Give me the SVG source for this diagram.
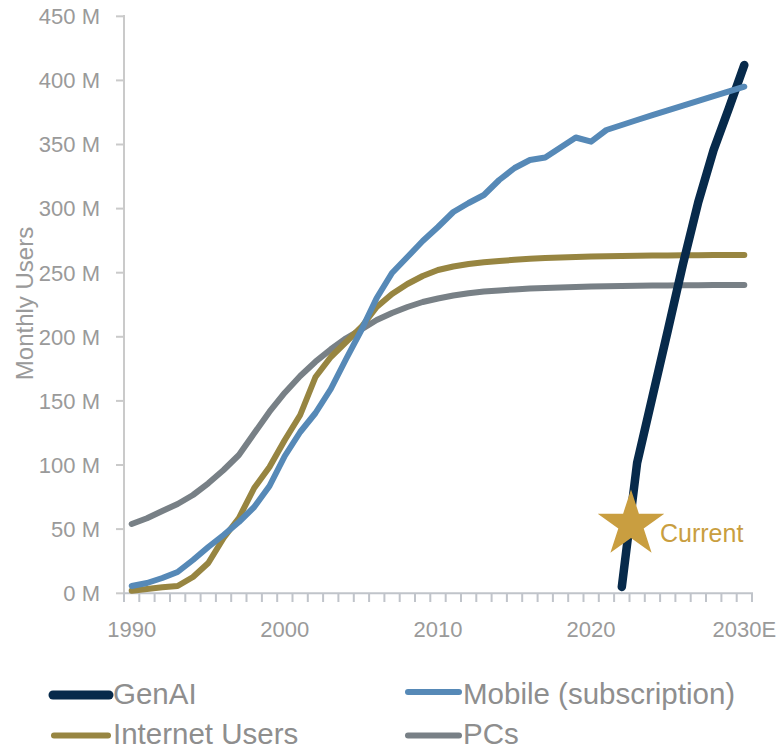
<svg xmlns="http://www.w3.org/2000/svg" width="781" height="750" viewBox="0 0 781 750">
<style>
.lbl{font-family:"Liberation Sans",Arial,sans-serif;font-size:22px;fill:#9a9a9a}
.leg{font-family:"Liberation Sans",Arial,sans-serif;font-size:29.5px;fill:#8e8e8e}
.ser{fill:none;stroke-linejoin:round;stroke-linecap:round}
.tick{stroke:#c0c4ca;stroke-width:2}
</style>
<rect width="781" height="750" fill="#fff"/>
<g id="axes">
<line x1="124" y1="15" x2="124" y2="594" stroke="#cacaca" stroke-width="2"/>
<g stroke="#cacaca" stroke-width="2">
<line x1="116" y1="16.3" x2="124" y2="16.3"/><line x1="116" y1="80.4" x2="124" y2="80.4"/><line x1="116" y1="144.5" x2="124" y2="144.5"/><line x1="116" y1="208.6" x2="124" y2="208.6"/><line x1="116" y1="272.7" x2="124" y2="272.7"/><line x1="116" y1="336.8" x2="124" y2="336.8"/><line x1="116" y1="400.9" x2="124" y2="400.9"/><line x1="116" y1="465" x2="124" y2="465"/><line x1="116" y1="529.1" x2="124" y2="529.1"/><line x1="116" y1="593.3" x2="124" y2="593.3"/>
</g>
<line x1="123" y1="593.3" x2="753" y2="593.3" class="tick"/>
<path class="tick" d="M124 593v9M139.3 593v9M154.6 593v9M170 593v9M185.3 593v9M200.6 593v9M215.9 593v9M231.2 593v9M246.5 593v9M261.9 593v9M277.2 593v9M292.5 593v9M307.8 593v9M323.1 593v9M338.4 593v9M353.8 593v9M369.1 593v9M384.4 593v9M399.7 593v9M415 593v9M430.3 593v9M445.7 593v9M461 593v9M476.3 593v9M491.6 593v9M506.9 593v9M522.2 593v9M537.6 593v9M552.9 593v9M568.2 593v9M583.5 593v9M598.8 593v9M614.1 593v9M629.5 593v9M644.8 593v9M660.1 593v9M675.4 593v9M690.7 593v9M706 593v9M721.4 593v9M736.7 593v9M752 593v9"/>
<g class="lbl" text-anchor="end">
<text x="100" y="24">450 M</text><text x="100" y="88">400 M</text><text x="100" y="152.3">350 M</text><text x="100" y="216.4">300 M</text><text x="100" y="280.5">250 M</text><text x="100" y="344.6">200 M</text><text x="100" y="408.7">150 M</text><text x="100" y="472.8">100 M</text><text x="100" y="536.9">50 M</text><text x="100" y="601">0 M</text>
</g>
<g class="lbl" text-anchor="middle">
<text x="131.7" y="637">1990</text><text x="284.8" y="637">2000</text><text x="438" y="637">2010</text><text x="591.1" y="637">2020</text><text x="744.3" y="637">2030E</text>
</g>
<text class="lbl" style="font-size:24px" transform="translate(33,303.5) rotate(-90)" text-anchor="middle">Monthly Users</text>
</g>
<g id="series">
<polyline id="pcs" class="ser" stroke="#788086" stroke-width="6" points="131.7,524 147,518.3 162.3,511 177.6,504 193,495 208.3,483.3 223.6,470 238.9,455 254.2,433.3 269.5,411.7 284.8,392.7 300.2,376 315.5,361.7 330.8,349.3 346.1,338.3 361.4,329.3 376.7,320 392,313 407.4,307 422.7,302 438,298.5 453.3,295.5 468.6,293.2 483.9,291.6 499.2,290.4 514.6,289.4 529.9,288.6 545.2,288 560.5,287.5 575.8,287 591.1,286.6 606.4,286.3 621.8,286 637.1,285.8 652.4,285.6 667.7,285.4 683,285.3 698.3,285.2 713.6,285.1 729,285 744.3,285"/>
<polyline id="internet" class="ser" stroke="#978541" stroke-width="6" points="131.7,590.7 147,589 162.3,587.3 177.6,586 193,577 208.3,563 223.6,538 238.9,518 254.2,488 269.5,467 284.8,440 300.2,415 315.5,377 330.8,357 346.1,342 361.4,327 376.7,307 392,294 407.4,284 422.7,276 438,270 453.3,266.5 468.6,264 483.9,262.3 499.2,261 514.6,259.8 529.9,258.8 545.2,258 560.5,257.4 575.8,256.9 591.1,256.5 606.4,256.2 621.8,256 637.1,255.8 652.4,255.6 667.7,255.4 683,255.3 698.3,255.2 713.6,255.1 729,255 744.3,255"/>
<polyline id="genai" class="ser" stroke="#072a4b" stroke-width="8.5" points="621.8,587 637.1,463 652.4,397 667.7,331 683,264 698.3,202 713.6,150 729,108 744.3,65"/>
<polyline id="mobile" class="ser" stroke="#5689b7" stroke-width="6" points="131.7,586 147,583 162.3,578 177.6,572 193,560 208.3,547 223.6,535 238.9,522 254.2,507 269.5,486 284.8,456 300.2,432 315.5,413 330.8,389 346.1,359 361.4,330 376.7,298 392,273 407.4,257 422.7,241 438,227 453.3,212 468.6,203 483.9,195 499.2,180 514.6,168 529.9,160 545.2,157.5 560.5,147.5 575.8,137.5 591.1,141.7 606.4,130 621.8,125 637.1,120 652.4,115.2 667.7,110.4 683,105.7 698.3,100.9 713.6,96.2 729,91.4 744.3,86.7"/>
</g>
<g id="current">
<polygon fill="#c99e40" points="631,489.5 638.9,513.7 664.3,513.7 643.7,528.6 651.6,552.8 631,537.9 610.4,552.8 618.3,528.6 597.7,513.7 623.1,513.7"/>
<text x="660" y="541.5" style="font-family:'Liberation Sans',Arial,sans-serif;font-size:25px;fill:#c99e40">Current</text>
</g>
<g id="legend">
<line x1="53" y1="695" x2="109" y2="695" stroke="#072a4b" stroke-width="9" stroke-linecap="round"/>
<text class="leg" x="113" y="704">GenAI</text>
<line x1="408" y1="692" x2="459" y2="692" stroke="#5689b7" stroke-width="6" stroke-linecap="round"/>
<text class="leg" x="463" y="704">Mobile (subscription)</text>
<line x1="54" y1="735.5" x2="108" y2="735.5" stroke="#978541" stroke-width="6" stroke-linecap="round"/>
<text class="leg" x="113" y="744">Internet Users</text>
<line x1="408" y1="735.5" x2="459" y2="735.5" stroke="#788086" stroke-width="6" stroke-linecap="round"/>
<text class="leg" x="463" y="744">PCs</text>
</g>
</svg>
